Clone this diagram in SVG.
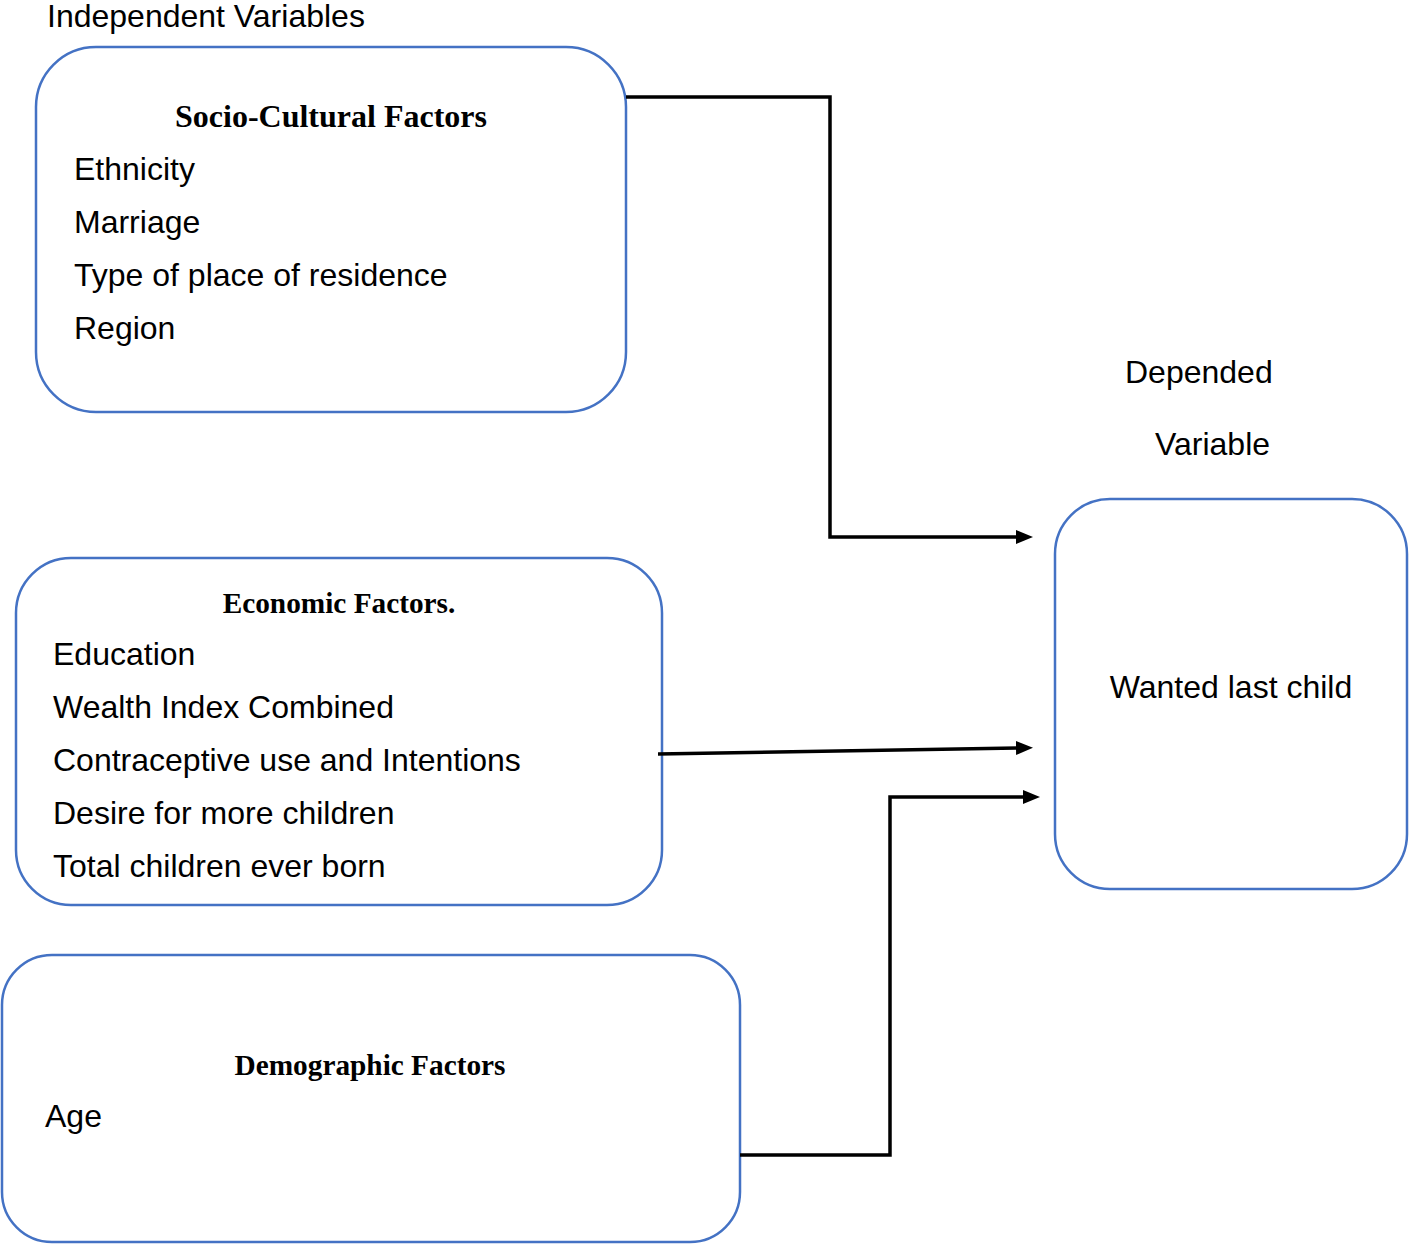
<svg xmlns="http://www.w3.org/2000/svg" width="1410" height="1246" viewBox="0 0 1410 1246">
<style>
.box{fill:#fff;stroke:#4472C4;stroke-width:2.5}
.t{font-family:"Liberation Sans",Arial,sans-serif;font-size:32px;fill:#000}
.h{font-family:"Liberation Serif","Times New Roman",serif;font-weight:bold;fill:#000;text-anchor:middle}
.c{fill:none;stroke:#000;stroke-width:3.5}
</style>
<defs>
<marker id="arr" markerWidth="17" markerHeight="14" refX="1" refY="7" orient="auto" markerUnits="userSpaceOnUse" viewBox="0 0 17 14">
<path d="M0,0 L17,7 L0,14 z" fill="#000"/>
</marker>
</defs>
<rect width="1410" height="1246" fill="#fff"/>
<text class="t" x="47" y="27">Independent Variables</text>
<g id="socio">
<rect class="box" x="36" y="47" width="590" height="365" rx="60" ry="60"/>
<text class="h" x="331" y="127" font-size="32">Socio-Cultural Factors</text>
<text class="t" x="74" y="180">Ethnicity</text>
<text class="t" x="74" y="233">Marriage</text>
<text class="t" x="74" y="286">Type of place of residence</text>
<text class="t" x="74" y="339">Region</text>
</g>
<g id="economic">
<rect class="box" x="16" y="558" width="646" height="347" rx="55" ry="55"/>
<text class="h" x="339" y="613" font-size="29.3">Economic Factors.</text>
<text class="t" x="53" y="665">Education</text>
<text class="t" x="53" y="718">Wealth Index Combined</text>
<text class="t" x="53" y="771">Contraceptive use and Intentions</text>
<text class="t" x="53" y="824">Desire for more children</text>
<text class="t" x="53" y="877">Total children ever born</text>
</g>
<g id="demographic">
<rect class="box" x="2" y="955" width="738" height="287" rx="50" ry="50"/>
<text class="h" x="370" y="1075" font-size="29.3">Demographic Factors</text>
<text class="t" x="45" y="1127">Age</text>
</g>
<g id="dependent">
<text class="t" x="1125" y="383">Depended</text>
<text class="t" x="1155" y="455">Variable</text>
<rect class="box" x="1055" y="499" width="352" height="390" rx="55" ry="55"/>
<text class="t" x="1231" y="698" text-anchor="middle">Wanted last child</text>
</g>
<g id="connectors">
<path class="c" d="M626,97 H830 V537 H1017" marker-end="url(#arr)"/>
<path class="c" d="M658,754 L1017,748" marker-end="url(#arr)"/>
<path class="c" d="M740,1155 H890 V797 H1024" marker-end="url(#arr)"/>
</g>
</svg>
